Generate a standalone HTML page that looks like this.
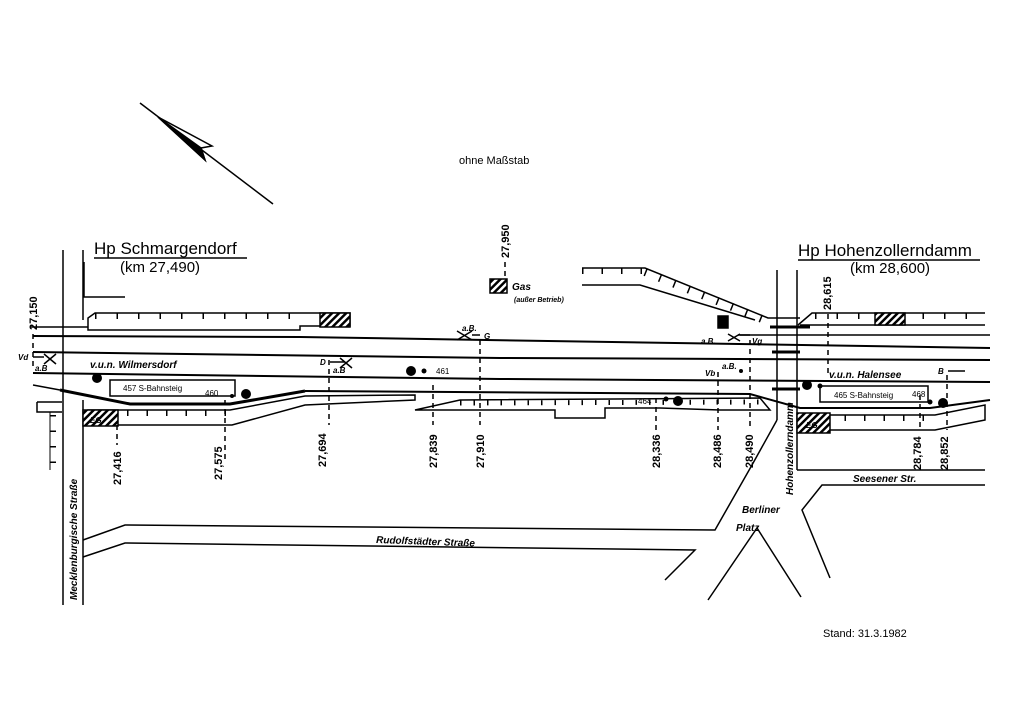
<!DOCTYPE html>
<html><head><meta charset="utf-8"><style>
html,body{margin:0;padding:0;background:#fff;}
svg{display:block;}
text{font-family:"Liberation Sans",sans-serif;fill:#000;}
.it{font-style:italic;font-weight:bold;}
</style></head><body>
<svg width="1024" height="724" viewBox="0 0 1024 724" xmlns="http://www.w3.org/2000/svg">
<defs>
<pattern id="h" width="5" height="5" patternUnits="userSpaceOnUse" patternTransform="rotate(45)">
<rect width="5" height="5" fill="#fff"/><rect width="2.5" height="5" fill="#000"/></pattern>
</defs>
<g fill="none" stroke="#000" stroke-width="1.5">
<!-- north arrow -->
<line x1="140" y1="103" x2="273" y2="204"/>
<path d="M158 117 L212 146 L201 148 L205 160 Z" fill="#fff"/>
<path d="M158 117 L201 148 L205 160 Z" fill="#000"/>

<!-- roads left -->
<line x1="63" y1="250" x2="63" y2="605"/>
<line x1="83" y1="250" x2="83" y2="320"/>
<line x1="83" y1="400" x2="83" y2="605"/>
<polyline points="83,540 125,525 715,530 752,465 777,420"/>
<polyline points="83,557 125,543 695,550 665,580"/>
<polyline points="84,262 84,297 125,297"/>
<!-- Hohenzollerndamm / Berliner Platz -->
<line x1="777" y1="270" x2="777" y2="420"/>
<line x1="797" y1="270" x2="797" y2="470"/>
<polyline points="797,470 985,470"/>
<polyline points="985,485 822,485 802,510 830,578"/>
<polyline points="708,600 757,528 801,597"/>
<!-- Platform top-left -->
<polygon points="88,326 88,318 95,313 350,313 350,326 300,326 300,330 88,330"/>
<line x1="95" y1="316" x2="300" y2="316" stroke-width="6" stroke-dasharray="1.5 20"/>
<rect x="320" y="313" width="30" height="14" fill="url(#h)"/>
<!-- Platform top-right (Hohenzollerndamm) -->
<polyline points="582,268 645,268 768,318 800,318"/>
<polyline points="582,285 640,285 755,320"/>
<line x1="582" y1="271" x2="645" y2="271" stroke-width="6" stroke-dasharray="1.5 18"/>
<line x1="645" y1="272" x2="762" y2="319" stroke-width="8" stroke-dasharray="1.5 14"/>
<polyline points="798,325 812,313 985,313"/>
<line x1="800" y1="325" x2="985" y2="325"/>
<line x1="815" y1="316" x2="985" y2="316" stroke-width="6" stroke-dasharray="1.5 20"/>
<rect x="875" y="313" width="30" height="12" fill="url(#h)"/>
<!-- tracks -->
<polyline points="33,336 300,337 990,348" stroke-width="2"/>
<polyline points="738,335 990,335"/>
<polyline points="33,352 500,358 990,360" stroke-width="2"/>
<polyline points="33,373 500,379 990,382" stroke-width="2"/>
<polyline points="33,385 60,390" stroke-width="1.5"/>
<polyline points="60,390 130,404 230,404 305,391" stroke-width="3"/>
<polyline points="305,391 750,394 800,408 930,408 990,400" stroke-width="2"/>
<polyline points="30,327 88,327" />
<line x1="770" y1="327" x2="810" y2="327" stroke-width="3"/>
<line x1="772" y1="352" x2="800" y2="352" stroke-width="3"/>
<line x1="772" y1="389" x2="800" y2="389" stroke-width="3"/>
<!-- lower-left platform -->
<polygon points="88,410 230,410 305,396 415,395 415,400 305,405 232,425 88,425"/>
<line x1="88" y1="413" x2="230" y2="413" stroke-width="6" stroke-dasharray="1.5 18"/>
<rect x="83" y="410" width="35" height="16" fill="url(#h)"/>
<polyline points="37,402 37,412 62,412"/>
<line x1="37" y1="402" x2="62" y2="402"/>
<line x1="50" y1="412" x2="50" y2="470" stroke-width="1"/>
<line x1="53" y1="415" x2="53" y2="470" stroke-width="6" stroke-dasharray="1.5 14" transform="rotate(90 53 415) rotate(-90 53 415)"/>
<!-- middle platform -->
<polygon points="415,410 460,400 760,398 770,410 720,410 660,408 605,408 605,418 555,418 555,410 470,410"/>
<line x1="460" y1="403" x2="760" y2="402" stroke-width="5" stroke-dasharray="1.5 12"/>
<!-- right lower platform -->
<polygon points="820,415 935,415 985,405 985,420 935,430 820,430"/>
<line x1="825" y1="418" x2="935" y2="418" stroke-width="6" stroke-dasharray="1.5 18"/>
<rect x="797" y="413" width="33" height="20" fill="url(#h)"/>
<!-- S-Bahnsteig boxes -->
<rect x="110" y="380" width="125" height="16" fill="#fff"/>
<rect x="820" y="386" width="108" height="16" fill="#fff"/>
<rect x="490" y="279" width="17" height="14" fill="url(#h)"/>
<rect x="718" y="316" width="10" height="12" fill="#000"/>
</g>
<!-- dashed km lines -->
<g stroke="#000" stroke-width="1.5" stroke-dasharray="5 4">
<line x1="33" y1="334" x2="33" y2="370"/>
<line x1="117" y1="425" x2="117" y2="445"/>
<line x1="225" y1="400" x2="225" y2="460"/>
<line x1="329" y1="360" x2="329" y2="425"/>
<line x1="433" y1="385" x2="433" y2="425"/>
<line x1="480" y1="340" x2="480" y2="425"/>
<line x1="505" y1="262" x2="505" y2="280"/>
<line x1="656" y1="398" x2="656" y2="430"/>
<line x1="718" y1="372" x2="718" y2="430"/>
<line x1="750" y1="340" x2="750" y2="430"/>
<line x1="828" y1="314" x2="828" y2="375"/>
<line x1="920" y1="395" x2="920" y2="430"/>
<line x1="947" y1="375" x2="947" y2="430"/>
</g>
<!-- signals -->
<g fill="#000">
<circle cx="97" cy="378" r="5"/><circle cx="246" cy="394" r="5"/><circle cx="232" cy="396" r="2"/>
<circle cx="411" cy="371" r="5"/><circle cx="424" cy="371" r="2.5"/>
<circle cx="678" cy="401" r="5"/><circle cx="666" cy="399" r="2.5"/>
<circle cx="807" cy="385" r="5"/><circle cx="820" cy="386" r="2.5"/>
<circle cx="943" cy="403" r="5"/><circle cx="930" cy="402" r="2.5"/>
<circle cx="741" cy="371" r="2"/>
</g>
<g stroke="#000" stroke-width="1.5" fill="none">
<path d="M44 354 L56 364 M56 354 L44 364 M33 357 L44 357"/>
<path d="M457 331 L472 340 M472 331 L457 340 M472 335 L480 335"/>
<path d="M728 334 L740 341 M740 334 L728 341 M740 335 L750 335"/>
<path d="M330 362 L345 362 M340 358 L352 368 M352 358 L340 368"/>
<path d="M948 371 L965 371"/>
</g>
<!-- text -->
<text x="94" y="254" font-size="17">Hp Schmargendorf</text>
<line x1="94" y1="258" x2="247" y2="258" stroke="#000" stroke-width="1.5"/>
<text x="120" y="272" font-size="15">(km 27,490)</text>
<text x="798" y="256" font-size="17">Hp  Hohenzollerndamm</text>
<line x1="798" y1="260" x2="980" y2="260" stroke="#000" stroke-width="1.5"/>
<text x="850" y="273" font-size="15">(km 28,600)</text>
<text x="459" y="164" font-size="11">ohne  Maßstab</text>
<text x="823" y="637" font-size="11">Stand: 31.3.1982</text>
<text x="512" y="290" font-size="10" class="it">Gas</text>
<text x="514" y="302" font-size="7" class="it">(außer Betrieb)</text>
<text x="90" y="368" font-size="10" class="it">v.u.n. Wilmersdorf</text>
<text x="829" y="378" font-size="10" class="it">v.u.n. Halensee</text>
<text x="123" y="391" font-size="8">457 S-Bahnsteig</text>
<text x="205" y="396" font-size="8">460</text>
<text x="834" y="398" font-size="8">465 S-Bahnsteig</text>
<text x="912" y="397" font-size="8">468</text>
<text x="436" y="374" font-size="8">461</text>
<text x="638" y="404" font-size="8">464</text>
<g class="it" font-size="8">
<text x="18" y="360">Vd</text><text x="35" y="371">a.B</text>
<text x="320" y="365">D</text><text x="333" y="373">a.B</text>
<text x="462" y="331">a.B.</text><text x="484" y="339">G</text>
<text x="701" y="344">a.B.</text><text x="752" y="344">Vg</text>
<text x="705" y="376">Vb</text><text x="722" y="369">a.B.</text>
<text x="938" y="374">B</text>
<text x="806" y="428">EG</text><text x="90" y="423">EG</text>
</g>
<text x="853" y="482" font-size="10" class="it">Seesener  Str.</text>
<text x="742" y="513" font-size="10" class="it">Berliner</text>
<text x="736" y="531" font-size="10" class="it">Platz</text>
<text x="376" y="543" font-size="10" class="it" transform="rotate(2 376 543)">Rudolfstädter  Straße</text>
<text transform="translate(77,600) rotate(-90)" font-size="10" class="it">Mecklenburgische  Straße</text>
<text transform="translate(793,495) rotate(-90)" font-size="10" class="it">Hohenzollerndamm</text>
<g font-size="11" font-weight="bold">
<text transform="translate(37,330) rotate(-90)">27,150</text>
<text transform="translate(121,485) rotate(-90)">27,416</text>
<text transform="translate(222,480) rotate(-90)">27,575</text>
<text transform="translate(326,467) rotate(-90)">27,694</text>
<text transform="translate(437,468) rotate(-90)">27,839</text>
<text transform="translate(484,468) rotate(-90)">27,910</text>
<text transform="translate(509,258) rotate(-90)">27,950</text>
<text transform="translate(660,468) rotate(-90)">28,336</text>
<text transform="translate(721,468) rotate(-90)">28,486</text>
<text transform="translate(753,468) rotate(-90)">28,490</text>
<text transform="translate(831,310) rotate(-90)">28,615</text>
<text transform="translate(921,470) rotate(-90)">28,784</text>
<text transform="translate(948,470) rotate(-90)">28,852</text>
</g>
</svg>
</body></html>
